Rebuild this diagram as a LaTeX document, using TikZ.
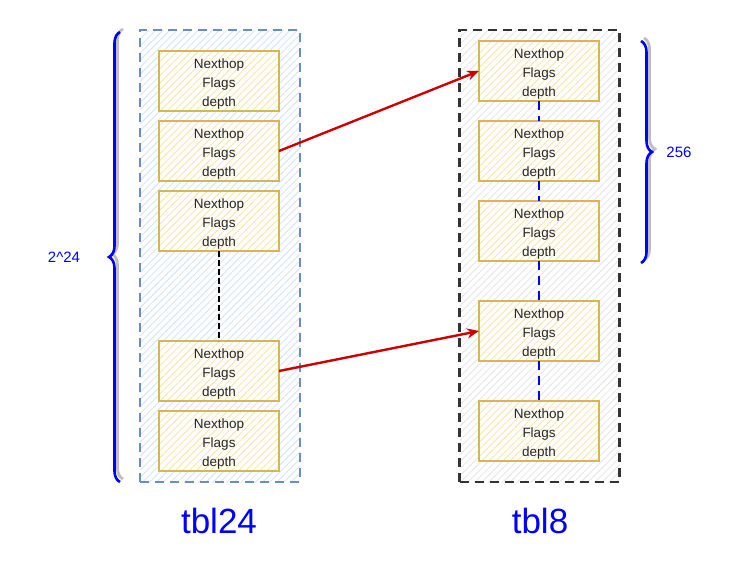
\documentclass[tikz,border=0pt]{standalone}
\usepackage{fontspec}
\setmainfont{Liberation Sans}
\usetikzlibrary{positioning, arrows.meta, decorations.pathreplacing, patterns.meta, calc}

\definecolor{entryline}{HTML}{D6B656}
\definecolor{entryfill}{HTML}{F7E3A8}
\definecolor{tblblue}{HTML}{6C8EBF}
\definecolor{tblbluefill}{HTML}{D2E2FA}
\definecolor{arrowred}{HTML}{CC0000}
\newcommand{\entrytext}{\rule{0pt}{15.5pt}Nexthop\\Flags\\depth}

\begin{document}
\begin{tikzpicture}[x=1pt, y=-1pt, node distance=10pt]
    \tikzset{
      entry/.style={
        rectangle, draw=entryline, line width=2.8pt, outer sep=0pt,
        preaction={fill=white}, pattern={Lines[angle=45,distance=5pt,line width=0.8pt]}, pattern color=entryfill,
        minimum width=120pt, minimum height=60pt, inner sep=0pt,
        align=center, font=\fontsize{13.5}{19}\selectfont, text=black!85
      },
      tblbox/.style={
        rectangle, dashed, dash pattern=on 9pt off 6pt, line width=2.6pt,
        minimum width=160pt, minimum height=452pt, inner sep=0pt,
        preaction={fill=white}
      },
      sizebrace/.style={
        draw=blue, line width=2.6pt, decorate,
        decoration={brace, amplitude=11pt}
      },
      braceshadow/.style={
        draw=black!25, line width=2.8pt, decorate,
        decoration={brace, amplitude=11pt}
      },
      link/.style={-{Stealth[length=12pt,width=10pt]}, arrowred, line width=2.4pt}
    }
    \useasboundingbox (0,0) rectangle (752,568);

    % Tables
    \node[tblbox, draw=tblblue, pattern={Lines[angle=45,distance=5pt,line width=0.8pt]}, pattern color=tblbluefill] (tbl24) at (220,256) {};
    \node[tblbox, draw=black!80, pattern={Lines[angle=45,distance=5pt,line width=0.8pt]}, pattern color=black!10] (tbl8) at (539.5,256) {};

    % tbl24 entries
    \node[entry] (a1) at (219,81) {\entrytext};
    \node[entry, below=of a1] (a2) {\entrytext};
    \node[entry, below=of a2] (a3) {\entrytext};
    \node[entry, below=90pt of a3] (a4) {\entrytext};
    \node[entry, below=of a4] (a5) {\entrytext};

    % tbl8 entries
    \node[entry] (b1) at (539,71) {\entrytext};
    \node[entry, below=20pt of b1] (b2) {\entrytext};
    \node[entry, below=20pt of b2] (b3) {\entrytext};
    \node[entry, below=40pt of b3] (b4) {\entrytext};
    \node[entry, below=40pt of b4] (b5) {\entrytext};

    % gaps
    \draw[black, dashed, dash pattern=on 6pt off 3pt, line width=1.8pt] (a3.south) -- (a4.north);
    \foreach \i/\j in {1/2, 2/3, 3/4, 4/5}
      \draw[blue, dashed, dash pattern=on 9pt off 6pt, line width=2.5pt] (b\i.south) -- (b\j.north);

    % links
    \draw[link] (a2.east) -- (b1.west);
    \draw[link] (a4.east) -- (b4.west);

    % sizes
    \coordinate (l1) at (120,482);
    \coordinate (l2) at (120,32);
    \coordinate (r1) at (641,41);
    \coordinate (r2) at (641,263);
    \draw[braceshadow] ($(l1)+(3,-3)$) -- ($(l2)+(3,-3)$);
    \draw[braceshadow] ($(r1)+(3,-3)$) -- ($(r2)+(3,-3)$);
    \draw[sizebrace] (l1) -- (l2);
    \draw[sizebrace] (r1) -- (r2);
    \node[text=blue, font=\fontsize{15}{17}\selectfont] (n24) at (64,257) {2\^{}24};
    \node[text=blue, font=\fontsize{15}{17}\selectfont] (n256) at (679,152) {256};

    % names
    \node[text=blue, font=\fontsize{35}{38}\selectfont] (t24) at (219,521) {tbl24};
    \node[text=blue, font=\fontsize{35}{38}\selectfont] (t8) at (540,521) {tbl8};
\end{tikzpicture}
\end{document}
